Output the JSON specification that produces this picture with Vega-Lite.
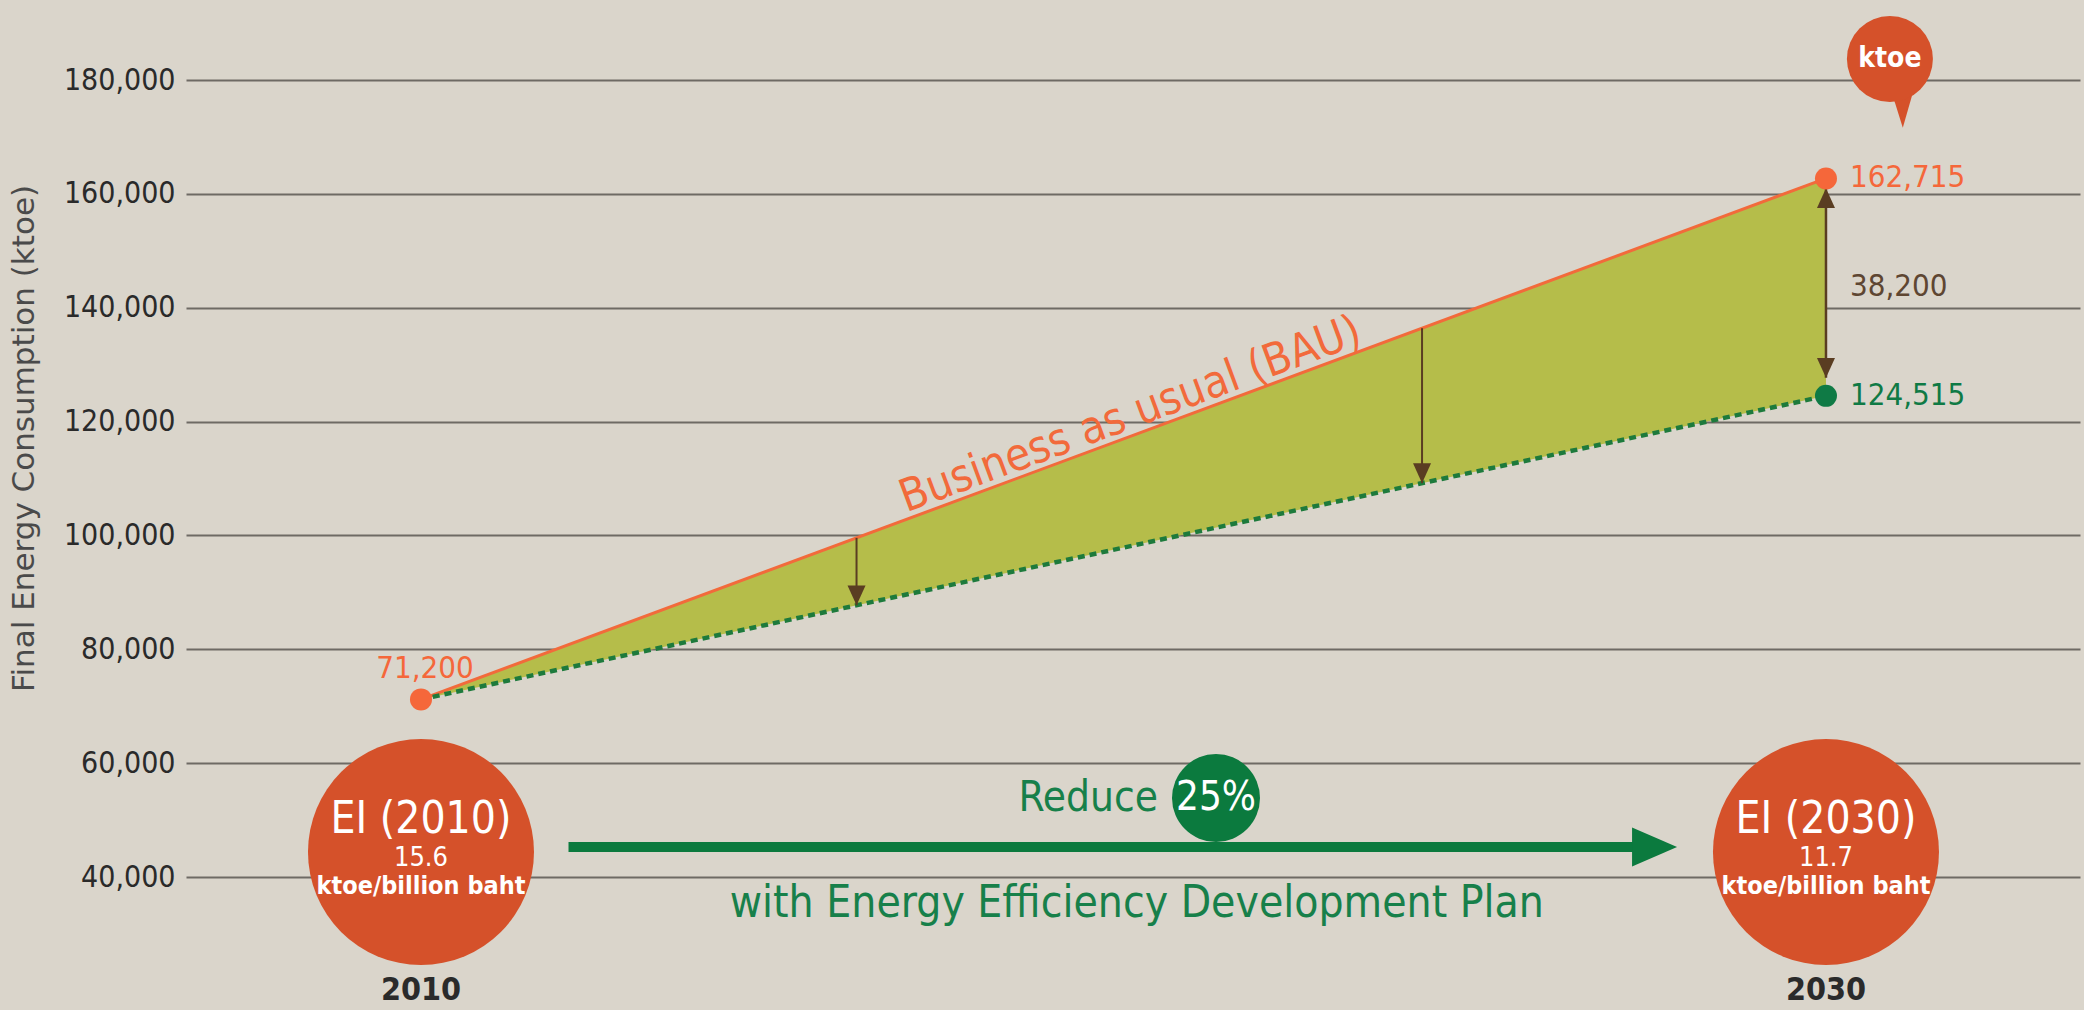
{
  "$schema": "https://vega.github.io/schema/vega-lite/v6.json",
  "width": 1894,
  "height": 1010,
  "autosize": {"type": "none"},
  "padding": {"left": 186, "top": 0, "right": 4, "bottom": 0},
  "background": "#dad5cb",
  "config": {
    "view": {"stroke": null},
    "font": "DejaVu Sans Condensed, Liberation Sans Narrow, DejaVu Sans, sans-serif",
    "axisY": {
      "domain": false, "ticks": false,
      "grid": true, "gridColor": "#6e6a64", "gridWidth": 2, "gridOpacity": 1,
      "labelFontSize": 30, "labelColor": "#2a2a2a", "labelPadding": 11,
      "labelFont": "DejaVu Sans Condensed, Liberation Sans Narrow, DejaVu Sans",
      "titleFont": "DejaVu Sans", "titleFontSize": 31, "titleFontWeight": "normal",
      "titleColor": "#4a4a4a"
    }
  },
  "datasets": {
    "series": [
      {"year": 2010, "bau": 71200, "eedp": 71200},
      {"year": 2030, "bau": 162715, "eedp": 124515}
    ],
    "points": [
      {"year": 2010, "value": 71200, "scenario": "BAU"},
      {"year": 2030, "value": 162715, "scenario": "BAU"},
      {"year": 2030, "value": 124515, "scenario": "EEDP"}
    ],
    "endLabels": [
      {"year": 2030, "value": 162715, "label": "162,715", "scenario": "BAU"},
      {"year": 2030, "value": 143615, "label": "38,200", "scenario": "gap"},
      {"year": 2030, "value": 124515, "label": "124,515", "scenario": "EEDP"}
    ],
    "startLabel": [
      {"year": 2010, "value": 71200, "label": "71,200", "scenario": "BAU"}
    ],
    "arrows": [
      {"year": 2016.2, "top": 99570, "bottom": 87728},
      {"year": 2024.25, "top": 136404, "bottom": 109187}
    ],
    "gap": [
      {"year": 2030, "top": 161000, "bottom": 127700}
    ],
    "ei": [
      {"year": 2010, "value": 44390, "title": "EI (2010)", "ei": "15.6", "unit": "ktoe/billion baht", "yearLabel": "2010"},
      {"year": 2030, "value": 44390, "title": "EI (2030)", "ei": "11.7", "unit": "ktoe/billion baht", "yearLabel": "2030"}
    ],
    "planArrow": [
      {"start": 2012.1, "end": 2027.3, "head": 2027.56, "value": 45270}
    ],
    "reduce": [
      {"year": 2021.317, "value": 53880, "pct": "25%", "word": "Reduce"}
    ],
    "plan": [
      {"year": 2020.19, "value": 35260, "text": "with Energy Efficiency Development Plan"}
    ],
    "bauLabel": [
      {"year": 2020.2, "value": 117800, "text": "Business as usual (BAU)"}
    ],
    "unitBubble": [
      {"year": 2030.91, "value": 183690, "text": "ktoe"}
    ]
  },
  "layer": [
    {
      "data": {"name": "series"},
      "mark": {"type": "area", "color": "#b5bd4a", "opacity": 1},
      "encoding": {
        "x": {"field": "year", "type": "quantitative", "scale": {"domain": [2006.655, 2033.616], "nice": false, "zero": false}, "axis": null},
        "y": {
          "field": "bau", "type": "quantitative",
          "scale": {"domain": [16639, 194053], "nice": false, "zero": false},
          "title": "Final Energy Consumption (ktoe)",
          "axis": {
            "values": [40000, 60000, 80000, 100000, 120000, 140000, 160000, 180000],
            "format": ",d",
            "titleAngle": -90, "titleAlign": "center", "titleBaseline": "middle",
            "titleX": -162, "titleY": 438
          }
        },
        "y2": {"field": "eedp"}
      }
    },
    {
      "data": {"name": "series"},
      "mark": {"type": "line", "color": "#f26a3b", "strokeWidth": 3},
      "encoding": {
        "x": {"field": "year", "type": "quantitative", "axis": null},
        "y": {"field": "bau", "type": "quantitative", "title": "Final Energy Consumption (ktoe)"}
      }
    },
    {
      "data": {"name": "series"},
      "mark": {"type": "line", "color": "#1d7a3c", "strokeWidth": 4.5, "strokeDash": [7, 5]},
      "encoding": {
        "x": {"field": "year", "type": "quantitative", "axis": null},
        "y": {"field": "eedp", "type": "quantitative", "title": "Final Energy Consumption (ktoe)"}
      }
    },
    {
      "data": {"name": "arrows"},
      "mark": {"type": "rule", "color": "#5a3d22", "strokeWidth": 2},
      "encoding": {
        "x": {"field": "year", "type": "quantitative", "axis": null},
        "y": {"field": "top", "type": "quantitative", "title": "Final Energy Consumption (ktoe)"},
        "y2": {"field": "bottom"}
      }
    },
    {
      "data": {"name": "arrows"},
      "mark": {"type": "point", "shape": "M-1,-2.2L1,-2.2L0,0Z", "size": 324, "filled": true, "color": "#5a3d22", "opacity": 1},
      "encoding": {
        "x": {"field": "year", "type": "quantitative", "axis": null},
        "y": {"field": "bottom", "type": "quantitative", "title": "Final Energy Consumption (ktoe)"}
      }
    },
    {
      "data": {"name": "gap"},
      "mark": {"type": "rule", "color": "#5a3d22", "strokeWidth": 2.5},
      "encoding": {
        "x": {"field": "year", "type": "quantitative", "axis": null},
        "y": {"field": "top", "type": "quantitative", "title": "Final Energy Consumption (ktoe)"},
        "y2": {"field": "bottom"}
      }
    },
    {
      "data": {"name": "gap"},
      "mark": {"type": "point", "shape": "M-1,-2.2L1,-2.2L0,0Z", "size": 324, "filled": true, "color": "#5a3d22", "opacity": 1},
      "encoding": {
        "x": {"field": "year", "type": "quantitative", "axis": null},
        "y": {"field": "bottom", "type": "quantitative", "title": "Final Energy Consumption (ktoe)"}
      }
    },
    {
      "data": {"name": "gap"},
      "mark": {"type": "point", "shape": "M-1,2.2L1,2.2L0,0Z", "size": 324, "filled": true, "color": "#5a3d22", "opacity": 1},
      "encoding": {
        "x": {"field": "year", "type": "quantitative", "axis": null},
        "y": {"field": "top", "type": "quantitative", "title": "Final Energy Consumption (ktoe)"}
      }
    },
    {
      "data": {"name": "points"},
      "mark": {"type": "point", "shape": "circle", "size": 484, "filled": true, "opacity": 1},
      "encoding": {
        "x": {"field": "year", "type": "quantitative", "axis": null},
        "y": {"field": "value", "type": "quantitative", "title": "Final Energy Consumption (ktoe)"},
        "color": {"field": "scenario", "type": "nominal", "scale": {"domain": ["BAU", "EEDP", "gap"], "range": ["#f5673a", "#0f7a45", "#5e4632"]}, "legend": null}
      }
    },
    {
      "data": {"name": "endLabels"},
      "mark": {"type": "text", "align": "left", "baseline": "middle", "dx": 24, "fontSize": 31},
      "encoding": {
        "x": {"field": "year", "type": "quantitative", "axis": null},
        "y": {"field": "value", "type": "quantitative", "title": "Final Energy Consumption (ktoe)"},
        "text": {"field": "label"},
        "color": {"field": "scenario", "type": "nominal", "legend": null}
      }
    },
    {
      "data": {"name": "startLabel"},
      "mark": {"type": "text", "align": "center", "baseline": "middle", "dx": 4, "dy": -30, "fontSize": 31},
      "encoding": {
        "x": {"field": "year", "type": "quantitative", "axis": null},
        "y": {"field": "value", "type": "quantitative", "title": "Final Energy Consumption (ktoe)"},
        "text": {"field": "label"},
        "color": {"field": "scenario", "type": "nominal", "legend": null}
      }
    },
    {
      "data": {"name": "bauLabel"},
      "mark": {"type": "text", "align": "center", "baseline": "alphabetic", "dy": -7, "angle": -20.35, "fontSize": 45, "color": "#f26a3b"},
      "encoding": {
        "x": {"field": "year", "type": "quantitative", "axis": null},
        "y": {"field": "value", "type": "quantitative", "title": "Final Energy Consumption (ktoe)"},
        "text": {"field": "text"}
      }
    },
    {
      "data": {"name": "ei"},
      "mark": {"type": "point", "shape": "circle", "size": 51076, "filled": true, "color": "#d5512a", "opacity": 1},
      "encoding": {
        "x": {"field": "year", "type": "quantitative", "axis": null},
        "y": {"field": "value", "type": "quantitative", "title": "Final Energy Consumption (ktoe)"}
      }
    },
    {
      "data": {"name": "ei"},
      "mark": {"type": "text", "align": "center", "baseline": "middle", "dy": -32, "fontSize": 44, "color": "#ffffff"},
      "encoding": {
        "x": {"field": "year", "type": "quantitative", "axis": null},
        "y": {"field": "value", "type": "quantitative", "title": "Final Energy Consumption (ktoe)"},
        "text": {"field": "title"}
      }
    },
    {
      "data": {"name": "ei"},
      "mark": {"type": "text", "align": "center", "baseline": "middle", "dy": 6, "fontSize": 27, "color": "#ffffff"},
      "encoding": {
        "x": {"field": "year", "type": "quantitative", "axis": null},
        "y": {"field": "value", "type": "quantitative", "title": "Final Energy Consumption (ktoe)"},
        "text": {"field": "ei"}
      }
    },
    {
      "data": {"name": "ei"},
      "mark": {"type": "text", "align": "center", "baseline": "middle", "dy": 34, "fontSize": 25, "fontWeight": "bold", "color": "#ffffff"},
      "encoding": {
        "x": {"field": "year", "type": "quantitative", "axis": null},
        "y": {"field": "value", "type": "quantitative", "title": "Final Energy Consumption (ktoe)"},
        "text": {"field": "unit"}
      }
    },
    {
      "data": {"name": "ei"},
      "mark": {"type": "text", "align": "center", "baseline": "middle", "dy": 138, "fontSize": 32, "fontWeight": "bold", "color": "#2a2a2a"},
      "encoding": {
        "x": {"field": "year", "type": "quantitative", "axis": null},
        "y": {"field": "value", "type": "quantitative", "title": "Final Energy Consumption (ktoe)"},
        "text": {"field": "yearLabel"}
      }
    },
    {
      "data": {"name": "planArrow"},
      "mark": {"type": "rule", "color": "#0b7a3e", "strokeWidth": 10},
      "encoding": {
        "x": {"field": "start", "type": "quantitative", "axis": null},
        "x2": {"field": "end"},
        "y": {"field": "value", "type": "quantitative", "title": "Final Energy Consumption (ktoe)"}
      }
    },
    {
      "data": {"name": "planArrow"},
      "mark": {"type": "point", "shape": "M-1,-0.87L1,0L-1,0.87Z", "size": 2025, "filled": true, "color": "#0b7a3e", "opacity": 1},
      "encoding": {
        "x": {"field": "head", "type": "quantitative", "axis": null},
        "y": {"field": "value", "type": "quantitative", "title": "Final Energy Consumption (ktoe)"}
      }
    },
    {
      "data": {"name": "reduce"},
      "mark": {"type": "point", "shape": "circle", "size": 7744, "filled": true, "color": "#0b7a3e", "opacity": 1},
      "encoding": {
        "x": {"field": "year", "type": "quantitative", "axis": null},
        "y": {"field": "value", "type": "quantitative", "title": "Final Energy Consumption (ktoe)"}
      }
    },
    {
      "data": {"name": "reduce"},
      "mark": {"type": "text", "align": "center", "baseline": "middle", "fontSize": 40, "color": "#ffffff"},
      "encoding": {
        "x": {"field": "year", "type": "quantitative", "axis": null},
        "y": {"field": "value", "type": "quantitative", "title": "Final Energy Consumption (ktoe)"},
        "text": {"field": "pct"}
      }
    },
    {
      "data": {"name": "reduce"},
      "mark": {"type": "text", "align": "right", "baseline": "middle", "dx": -58, "fontSize": 42, "color": "#17804a"},
      "encoding": {
        "x": {"field": "year", "type": "quantitative", "axis": null},
        "y": {"field": "value", "type": "quantitative", "title": "Final Energy Consumption (ktoe)"},
        "text": {"field": "word"}
      }
    },
    {
      "data": {"name": "plan"},
      "mark": {"type": "text", "align": "center", "baseline": "middle", "fontSize": 44, "color": "#17804a"},
      "encoding": {
        "x": {"field": "year", "type": "quantitative", "axis": null},
        "y": {"field": "value", "type": "quantitative", "title": "Final Energy Consumption (ktoe)"},
        "text": {"field": "text"}
      }
    },
    {
      "data": {"name": "unitBubble"},
      "mark": {"type": "point", "shape": "M0.05,0.8L0.6,0.55L0.3,1.6Z", "size": 7396, "filled": true, "color": "#d5512a", "opacity": 1},
      "encoding": {
        "x": {"field": "year", "type": "quantitative", "axis": null},
        "y": {"field": "value", "type": "quantitative", "title": "Final Energy Consumption (ktoe)"}
      }
    },
    {
      "data": {"name": "unitBubble"},
      "mark": {"type": "point", "shape": "circle", "size": 7396, "filled": true, "color": "#d5512a", "opacity": 1},
      "encoding": {
        "x": {"field": "year", "type": "quantitative", "axis": null},
        "y": {"field": "value", "type": "quantitative", "title": "Final Energy Consumption (ktoe)"}
      }
    },
    {
      "data": {"name": "unitBubble"},
      "mark": {"type": "text", "align": "center", "baseline": "middle", "fontSize": 28, "fontWeight": "bold", "color": "#ffffff"},
      "encoding": {
        "x": {"field": "year", "type": "quantitative", "axis": null},
        "y": {"field": "value", "type": "quantitative", "title": "Final Energy Consumption (ktoe)"},
        "text": {"field": "text"}
      }
    }
  ]
}
